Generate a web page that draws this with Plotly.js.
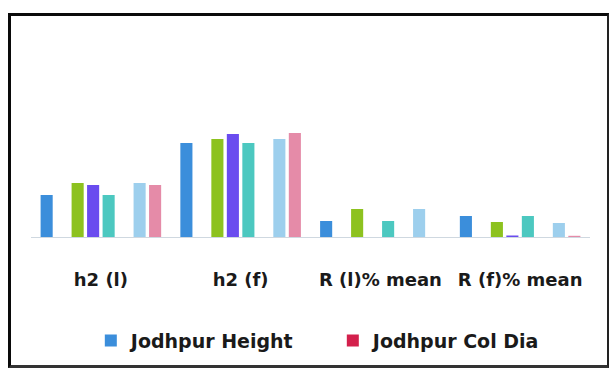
<!DOCTYPE html>
<html>
<head>
<meta charset="utf-8">
<script src="https://cdn.plot.ly/plotly-3.0.1.min.js"></script>
<style>
  html, body { margin: 0; padding: 0; background: #ffffff; }
  #wrap { position: relative; width: 610px; height: 369px; }
  #chart { position: absolute; left: 0; top: 0; width: 610px; height: 369px; }
  #frame {
    position: absolute; left: 8px; top: 13px; width: 596px; height: 349px;
    border-top: 3px solid #0a0a0a; border-left: 3px solid #0a0a0a;
    border-right: 2px solid #222; border-bottom: 3px solid #333;
    pointer-events: none;
  }
</style>
</head>
<body>
<div id="wrap">
  <div id="chart"></div>
  <div id="frame"></div>
</div>
<script>
// Genetic parameter categories along the x axis
const categories = ["h2 (l)", "h2 (f)", "R (l)% mean", "R (f)% mean"];

// One array per series, in category order
const jodhpurHeight = [0.42, 0.94, 0.16, 0.21];
const jodhpurColDia = [0, 0, 0, 0];
const series3 = [0.54, 0.98, 0.28, 0.15];
const series4 = [0.52, 1.03, 0, 0.015];
const series5 = [0.42, 0.94, 0.16, 0.21];
const series6 = [0, 0, 0, 0];
const series7 = [0.54, 0.98, 0.28, 0.14];
const series8 = [0.52, 1.04, 0, 0.012];

const seriesNames = ["Jodhpur Height", "Jodhpur Col Dia", "Series 3", "Series 4",
                     "Series 5", "Series 6", "Series 7", "Series 8"];
const seriesValues = [jodhpurHeight, jodhpurColDia, series3, series4,
                      series5, series6, series7, series8];
const seriesColors = ["#3b8edb", "#d3204c", "#8dc21f", "#6a4cef",
                      "#4cc8c0", "#f4a04a", "#9dcfed", "#e58ba8"];

const traces = seriesValues.map((vals, i) => ({
  type: "bar",
  name: seriesNames[i],
  x: categories,
  y: vals,
  marker: { color: seriesColors[i] },
  showlegend: i < 2,
  hoverinfo: "x+y+name"
}));

const layout = {
  width: 610,
  height: 369,
  margin: { l: 31, r: 20, t: 34, b: 132, autoexpand: false },
  paper_bgcolor: "#ffffff",
  plot_bgcolor: "rgba(0,0,0,0)",
  barmode: "group",
  bargap: 0.113,
  bargroupgap: 0.22,
  font: { family: "DejaVu Sans", color: "#1a1a1a" },
  xaxis: {
    type: "category",
    showline: true,
    linecolor: "#cfd8e0",
    linewidth: 1,
    showgrid: false,
    zeroline: false,
    ticks: "",
    ticklabelstandoff: 26,
    tickfont: { family: "DejaVu Sans", size: 18, weight: "bold", color: "#1a1a1a" }
  },
  yaxis: {
    range: [0, 2.03],
    showgrid: false,
    zeroline: false,
    showline: false,
    showticklabels: false,
    ticks: ""
  },
  legend: {
    orientation: "h",
    x: 0.107,
    xanchor: "left",
    y: -0.51,
    yanchor: "middle",
    itemwidth: 30,
    entrywidth: 197,
    entrywidthmode: "pixels",
    font: { family: "DejaVu Sans", size: 19, weight: "bold", color: "#1a1a1a" },
    bgcolor: "rgba(0,0,0,0)"
  }
};

Plotly.newPlot("chart", traces, layout, { displayModeBar: false, staticPlot: true });
</script>
</body>
</html>
